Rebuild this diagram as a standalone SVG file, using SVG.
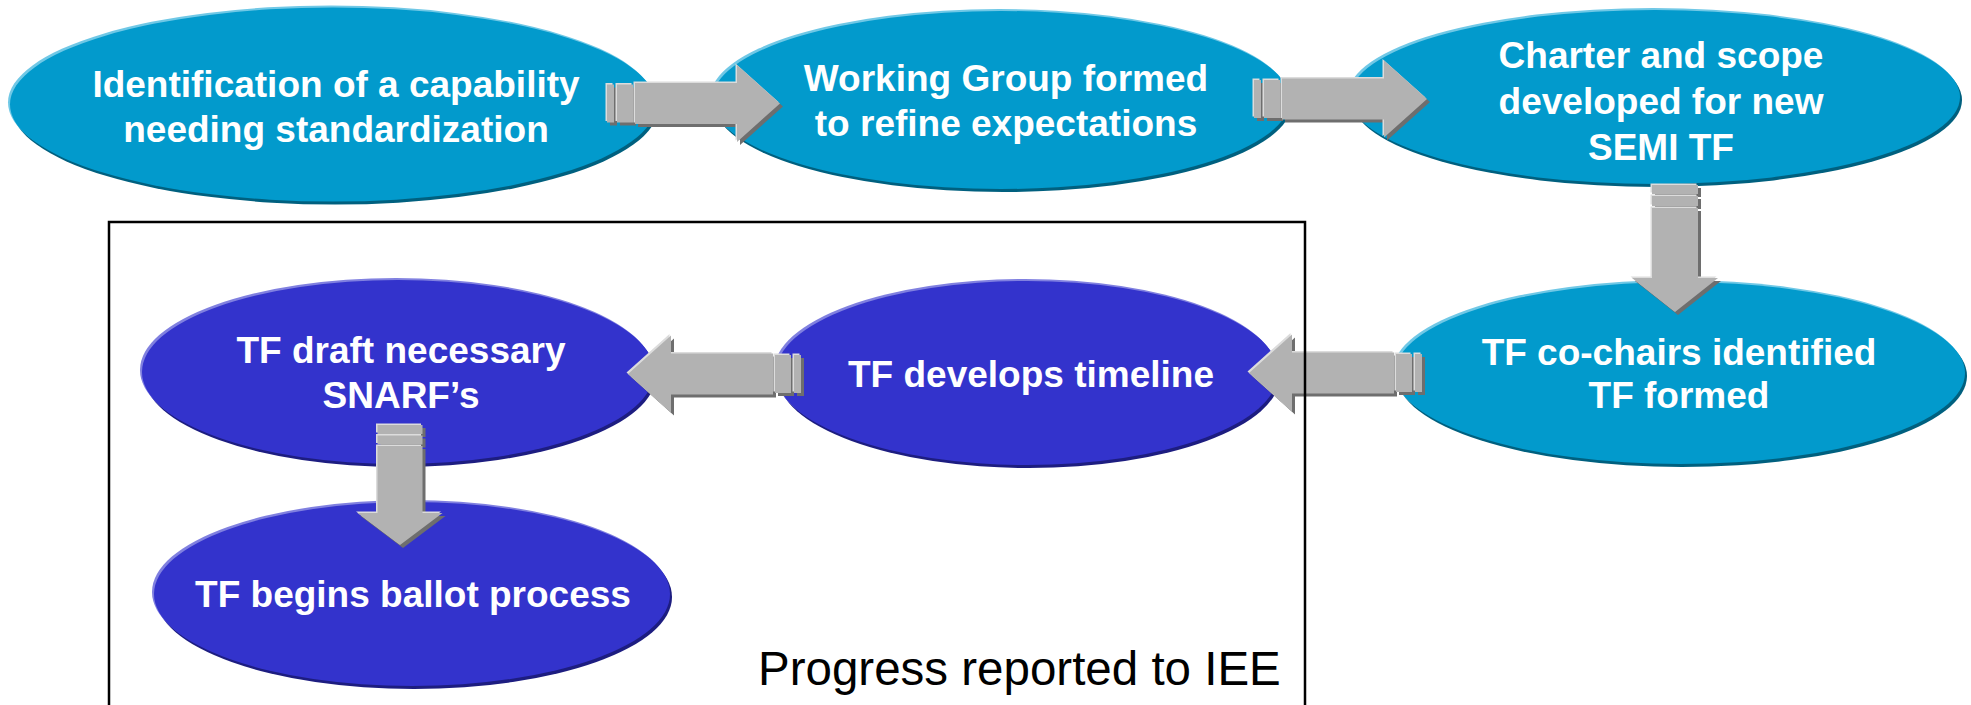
<svg xmlns="http://www.w3.org/2000/svg" xmlns:xlink="http://www.w3.org/1999/xlink" width="1971" height="705" viewBox="0 0 1971 705">
<style>
.lb-sh{fill:#00607f}.lb-hi{fill:#70c8e6}.lb{fill:#029acc}
.db-sh{fill:#1d1d80}.db-hi{fill:#8080e0}.db{fill:#3333cc}
.sh{fill:#6e6e6e}.hi{fill:#dcdcdc}.ar{fill:#b2b2b2}
.t{font-family:"Liberation Sans",Arial,sans-serif;font-weight:bold;font-size:37px;fill:#ffffff;text-anchor:middle}
.note{font-family:"Liberation Sans",Arial,sans-serif;font-size:47.5px;fill:#000000}
</style>
<defs>
<g id="ha">
<rect x="0" y="-19" width="7" height="38"/>
<rect x="10" y="-19" width="16" height="38"/>
<path d="M28,-20.5 H130 V-38.5 L173,0 L130,38.5 V20.5 H28 Z"/>
</g>
<g id="vaA">
<rect x="-23" y="0" width="46" height="9"/>
<rect x="-23" y="11" width="46" height="10"/>
<path d="M-23,23 H23 V93 H43 L0,127 L-43,93 H-23 Z"/>
</g>
<g id="vaB">
<rect x="-22.5" y="0" width="45" height="9"/>
<rect x="-22.5" y="10.5" width="45" height="9"/>
<path d="M-22.5,21 H22.5 V88 H42.5 L0,120 L-42.5,88 H-22.5 Z"/>
</g>
</defs>

<g id="node-identification">
<ellipse class="lb-sh" cx="335" cy="107.5" rx="323" ry="97"/>
<ellipse class="lb-hi" cx="331" cy="102.5" rx="323" ry="97"/>
<ellipse class="lb" cx="333" cy="104.5" rx="323" ry="97"/>
<text class="t" x="336" y="97">Identification of a capability</text>
<text class="t" x="336" y="142">needing standardization</text>
</g>

<g id="node-working-group">
<ellipse class="lb-sh" cx="1003" cy="103" rx="289" ry="89"/>
<ellipse class="lb-hi" cx="999" cy="98" rx="289" ry="89"/>
<ellipse class="lb" cx="1001" cy="100" rx="289" ry="89"/>
<text class="t" x="1006" y="91">Working Group formed</text>
<text class="t" x="1006" y="136">to refine expectations</text>
</g>

<g id="node-charter">
<ellipse class="lb-sh" cx="1657" cy="100" rx="305" ry="87"/>
<ellipse class="lb-hi" cx="1653" cy="95" rx="305" ry="87"/>
<ellipse class="lb" cx="1655" cy="97" rx="305" ry="87"/>
<text class="t" x="1661" y="68">Charter and scope</text>
<text class="t" x="1661" y="114">developed for new</text>
<text class="t" x="1661" y="160">SEMI TF</text>
</g>

<g id="node-cochairs">
<ellipse class="lb-sh" cx="1682" cy="376" rx="285" ry="91"/>
<ellipse class="lb-hi" cx="1678" cy="371" rx="285" ry="91"/>
<ellipse class="lb" cx="1680" cy="373" rx="285" ry="91"/>
<text class="t" x="1679" y="365">TF co-chairs identified</text>
<text class="t" x="1679" y="408">TF formed</text>
</g>

<g id="node-timeline">
<ellipse class="db-sh" cx="1029" cy="376" rx="251" ry="92"/>
<ellipse class="db-hi" cx="1025" cy="371" rx="251" ry="92"/>
<ellipse class="db" cx="1027" cy="373" rx="251" ry="92"/>
<text class="t" x="1031" y="387">TF develops timeline</text>
</g>

<g id="node-snarf">
<ellipse class="db-sh" cx="400" cy="375" rx="256" ry="92"/>
<ellipse class="db-hi" cx="396" cy="370" rx="256" ry="92"/>
<ellipse class="db" cx="398" cy="372" rx="256" ry="92"/>
<text class="t" x="401" y="363">TF draft necessary</text>
<text class="t" x="401" y="408">SNARF’s</text>
</g>

<g id="node-ballot">
<ellipse class="db-sh" cx="414" cy="597" rx="258" ry="92"/>
<ellipse class="db-hi" cx="410" cy="592" rx="258" ry="92"/>
<ellipse class="db" cx="412" cy="594" rx="258" ry="92"/>
<text class="t" x="413" y="607">TF begins ballot process</text>
</g>

<g id="connectors">
<g transform="translate(607,103.5)">
<use href="#ha" xlink:href="#ha" class="sh" transform="translate(3,3)"/>
<use href="#ha" xlink:href="#ha" class="hi" transform="translate(-1.5,-1.5)"/>
<use href="#ha" xlink:href="#ha" class="ar"/>
</g>
<g transform="translate(1254,99)">
<use href="#ha" xlink:href="#ha" class="sh" transform="translate(3,3)"/>
<use href="#ha" xlink:href="#ha" class="hi" transform="translate(-1.5,-1.5)"/>
<use href="#ha" xlink:href="#ha" class="ar"/>
</g>
<g transform="translate(1675,185)">
<use href="#vaA" xlink:href="#vaA" class="sh" transform="translate(3,3)"/>
<use href="#vaA" xlink:href="#vaA" class="hi" transform="translate(-1.5,-1.5)"/>
<use href="#vaA" xlink:href="#vaA" class="ar"/>
</g>
<g transform="translate(1422,373)">
<use href="#ha" xlink:href="#ha" class="sh" transform="translate(3,3) scale(-1,1)"/>
<use href="#ha" xlink:href="#ha" class="hi" transform="translate(-1.5,-1.5) scale(-1,1)"/>
<use href="#ha" xlink:href="#ha" class="ar" transform="scale(-1,1)"/>
</g>
<g transform="translate(801,374)">
<use href="#ha" xlink:href="#ha" class="sh" transform="translate(3,3) scale(-1,1)"/>
<use href="#ha" xlink:href="#ha" class="hi" transform="translate(-1.5,-1.5) scale(-1,1)"/>
<use href="#ha" xlink:href="#ha" class="ar" transform="scale(-1,1)"/>
</g>
<g transform="translate(400,425)">
<use href="#vaB" xlink:href="#vaB" class="sh" transform="translate(3,3)"/>
<use href="#vaB" xlink:href="#vaB" class="hi" transform="translate(-1.5,-1.5)"/>
<use href="#vaB" xlink:href="#vaB" class="ar"/>
</g>
</g>

<g id="iee-box">
<path d="M109,710 V222 H1305 V710" fill="none" stroke="#000000" stroke-width="2.5"/>
<text class="note" x="758" y="685">Progress reported to IEE</text>
</g>
</svg>
